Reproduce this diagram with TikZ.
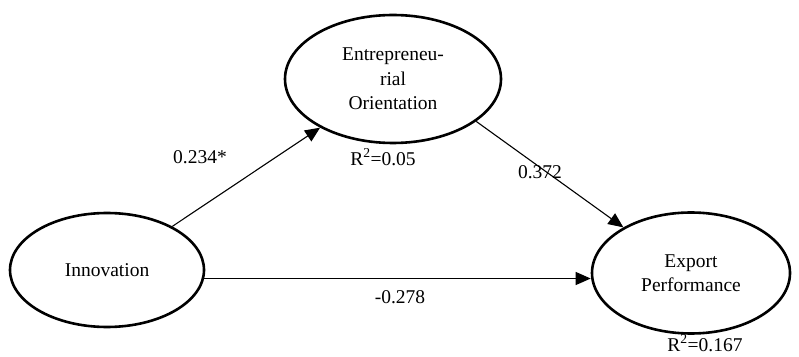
\documentclass[tikz,border=0pt]{standalone}
\usepackage{fontspec}
\setmainfont{Liberation Serif}
\usetikzlibrary{shapes.geometric,arrows.meta}
\begin{document}
\begin{tikzpicture}[x=1pt,y=1pt,
  font=\fontsize{19.5}{24.5}\selectfont,
  latent/.style={ellipse,draw,line width=2.6pt,inner sep=0pt,align=center},
  path/.style={line width=1.1pt,-{Triangle[length=15pt,width=13pt]}},
  lbl/.style={inner sep=0pt}]
\useasboundingbox (0,0) rectangle (799,356);
\node[latent,minimum width=194pt,minimum height=114pt] (inn) at (107,86) {Innovation};
\node[latent,minimum width=216pt,minimum height=128pt] (eo) at (393,277) {Entrepreneu-\\rial\\Orientation};
\node[latent,minimum width=198pt,minimum height=121pt] (exp) at (691,83) {Export\\Performance};
\draw[path] (inn) -- (eo);
\draw[path] (eo.-27) -- (exp.146);
\draw[path] (inn.-5) -- (inn.-5 -| exp.west);
\node[lbl] (l1) at (200,199) {0.234*};
\node[lbl] (r1) at (383,199) {R\textsuperscript{2}=0.05};
\node[lbl] (l2) at (540,184) {0.372};
\node[lbl] (l3) at (400,59) {-0.278};
\node[lbl] (r2) at (705,13) {R\textsuperscript{2}=0.167};
\end{tikzpicture}
\end{document}
